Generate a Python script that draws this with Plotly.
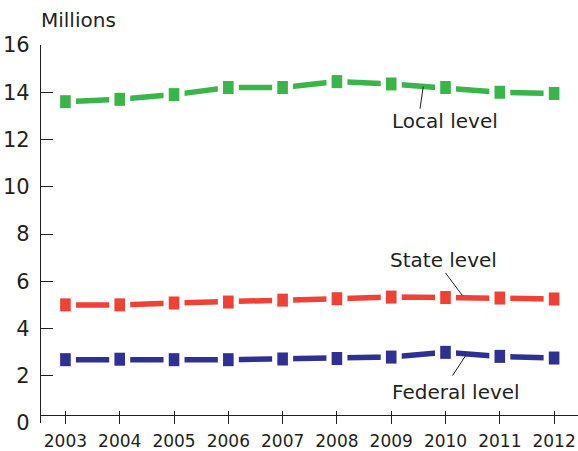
import plotly.graph_objects as go

# Employment by level of government, millions
years = [2003, 2004, 2005, 2006, 2007, 2008, 2009, 2010, 2011, 2012]
local_level = [13.6, 13.7, 13.9, 14.2, 14.2, 14.45, 14.35, 14.2, 14.0, 13.95]
state_level = [5.0, 5.0, 5.08, 5.12, 5.2, 5.26, 5.33, 5.31, 5.29, 5.25]
federal_level = [2.68, 2.7, 2.68, 2.68, 2.71, 2.73, 2.79, 2.99, 2.82, 2.75]

y_ticks = [0, 2, 4, 6, 8, 10, 12, 14, 16]
y_minor_marks = [2, 4, 6, 8, 10, 12, 14]

GREEN = "#39b54a"
RED = "#ef4136"
BLUE = "#2e3192"
INK = "#231f20"
FONT = "DejaVu Sans"

series = [
    ("Local level", local_level, GREEN),
    ("State level", state_level, RED),
    ("Federal level", federal_level, BLUE),
]

fig = go.Figure()

for name, vals, col in series:
    # connecting line
    fig.add_trace(go.Scatter(x=years, y=vals, mode="lines",
                             line=dict(color=col, width=5.5),
                             showlegend=False, hoverinfo="skip"))
    # white halo that opens a gap in the line around each point
    fig.add_trace(go.Scatter(x=years, y=vals, mode="markers",
                             marker=dict(symbol="square", size=21, color="white",
                                         line=dict(width=0)),
                             showlegend=False, hoverinfo="skip"))
    # upright rectangular point marker
    fig.add_trace(go.Scatter(x=years, y=vals, mode="markers", name=name,
                             marker=dict(symbol="line-ns", size=9.3,
                                         line=dict(color=col, width=10.6)),
                             showlegend=False))

# empty trace that carries the overlay axes used for tick marks
fig.add_trace(go.Scatter(x=[None], y=[None], xaxis="x2", yaxis="y2",
                         showlegend=False, hoverinfo="skip"))

x_range = [2002.55, 2012.44]
axis_pos = 0.021

fig.update_layout(
    width=578, height=451,
    margin=dict(l=41, r=0, t=45, b=28),
    paper_bgcolor="white", plot_bgcolor="white",
    font=dict(family=FONT, color=INK),
    xaxis=dict(range=x_range, anchor="free", position=axis_pos,
               tickvals=years, ticktext=[str(y) for y in years],
               ticks="outside", ticklen=8, tickwidth=1.3, tickcolor=INK,
               showline=True, linecolor=INK, linewidth=1.3,
               showgrid=False, zeroline=False,
               tickfont=dict(size=17, family=FONT, color=INK),
               ticklabelstandoff=2),
    xaxis2=dict(matches="x", overlaying="x", anchor="free", position=axis_pos,
                tickvals=years, ticks="inside", ticklen=4, tickwidth=1.3,
                tickcolor=INK, showticklabels=False, showline=False,
                showgrid=False, zeroline=False),
    yaxis=dict(range=[0, 16], tickvals=y_ticks, ticks="",
               showline=True, linecolor=INK, linewidth=1.3,
               showgrid=False, zeroline=False,
               tickfont=dict(size=21, family=FONT, color=INK),
               ticklabelstandoff=6),
    yaxis2=dict(matches="y", overlaying="y", anchor="x", side="left",
                tickvals=y_minor_marks, ticks="inside", ticklen=12,
                tickwidth=1.3, tickcolor=INK, showticklabels=False,
                showline=False, showgrid=False, zeroline=False),
)

fig.add_annotation(text="Millions", xref="paper", yref="paper",
                   x=-0.003, y=1.066, xanchor="left", yanchor="middle",
                   showarrow=False, font=dict(size=20, family=FONT, color=INK))

# series labels with leader lines
labels = [
    ("Local level", 2009.99, 12.78, (2009.53, 13.30, 2009.59, 14.24)),
    ("State level", 2009.97, 6.88, (2010.0, 6.35, 2010.31, 5.40)),
    ("Federal level", 2010.19, 1.33, (2010.13, 2.01, 2010.37, 2.85)),
]
for text, tx, ty, (x0, y0, x1, y1) in labels:
    fig.add_annotation(text=text, x=tx, y=ty, xref="x", yref="y",
                       showarrow=False,
                       font=dict(size=20, family=FONT, color=INK))
    fig.add_shape(type="line", xref="x", yref="y", x0=x0, y0=y0, x1=x1, y1=y1,
                  line=dict(color=INK, width=1))

fig.write_html("out.html")
